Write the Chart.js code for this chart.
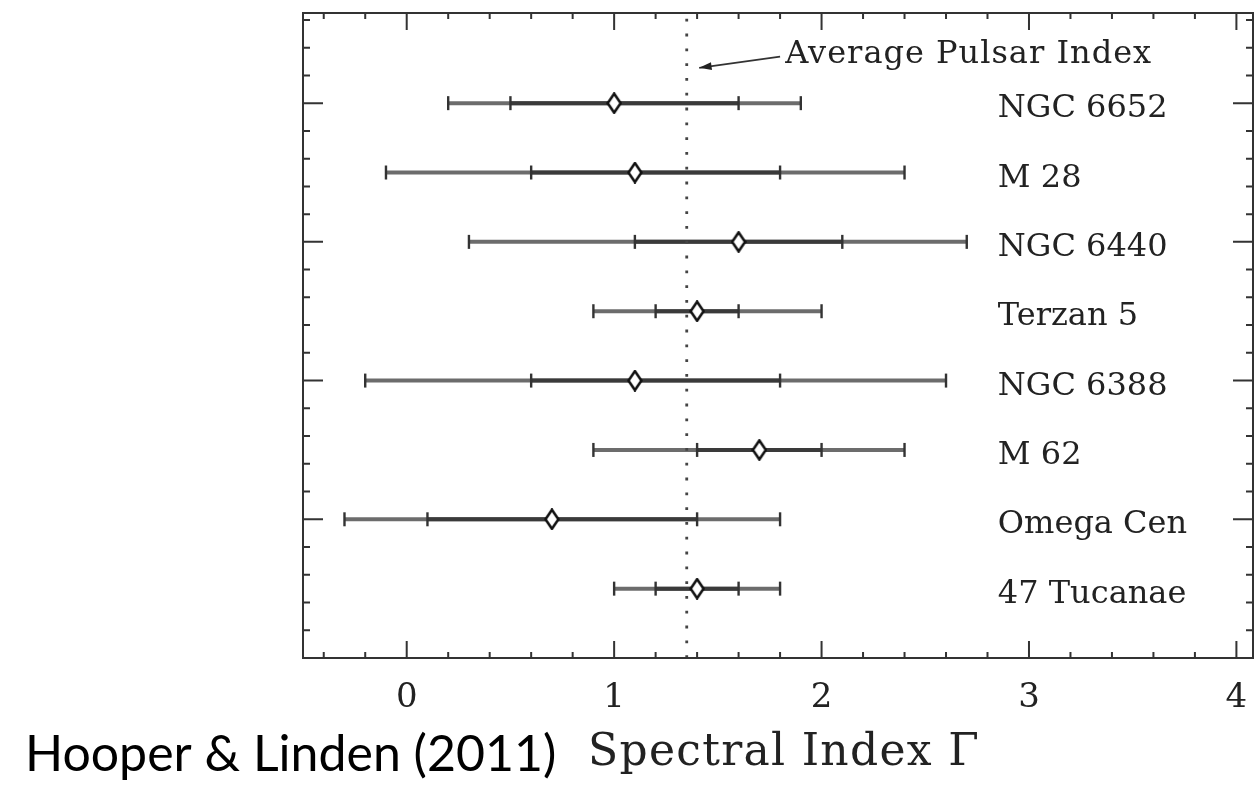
<!DOCTYPE html>
<html lang="en">
<head>
  <meta charset="UTF-8">
  <title>Spectral Index of Globular Clusters</title>
  <script src="https://cdn.jsdelivr.net/npm/chart.js"></script>
  <style>
    html, body {
      margin: 0;
      padding: 0;
      background: #fff;
    }

    #wrap {
      width: 1255px;
      height: 786px;
    }
  </style>
</head>
<body>
  <div id="wrap">
    <canvas id="chartCanvas" width="1255" height="786"></canvas>
  </div>

  <script>
    // globular clusters, top row first
    const clusters = ['NGC 6652', 'M 28', 'NGC 6440', 'Terzan 5', 'NGC 6388', 'M 62', 'Omega Cen', '47 Tucanae'];
    const rowPos = [8, 7, 6, 5, 4, 3, 2, 1];

    // best-fit spectral index with inner and outer error ranges
    const gamma   = [1.0, 1.1, 1.6, 1.4, 1.1, 1.7, 0.7, 1.4];
    const innerLo = [0.5, 0.6, 1.1, 1.2, 0.6, 1.4, 0.1, 1.2];
    const innerHi = [1.6, 1.8, 2.1, 1.6, 1.8, 2.0, 1.4, 1.6];
    const outerLo = [0.2, -0.1, 0.3, 0.9, -0.2, 0.9, -0.3, 1.0];
    const outerHi = [1.9, 2.4, 2.7, 2.0, 2.6, 2.4, 1.8, 1.8];

    const avgPulsarIndex = 1.35;

    const xTicks = [0, 1, 2, 3, 4];
    const xTickLabels = ['0', '1', '2', '3', '4'];

    const serif = '"DejaVu Serif", "Liberation Serif", serif';
    const ink = '#222';

    // narrow open diamond used as the point marker
    function diamond() {
      const c = document.createElement('canvas');
      c.width = 16;
      c.height = 22;
      const g = c.getContext('2d');
      g.beginPath();
      g.moveTo(8, 1.5);
      g.lineTo(14.5, 11);
      g.lineTo(8, 20.5);
      g.lineTo(1.5, 11);
      g.closePath();
      g.fillStyle = '#fff';
      g.fill();
      g.lineWidth = 2.6;
      g.strokeStyle = '#111';
      g.stroke();
      return c;
    }

    const datasets = [];

    clusters.forEach((name, i) => {
      datasets.push({
        data: [{x: outerLo[i], y: rowPos[i]}, {x: outerHi[i], y: rowPos[i]}],
        showLine: true,
        borderColor: '#6c6c6c',
        borderWidth: 4,
        pointRadius: 0,
        order: 4
      });
      datasets.push({
        data: [{x: innerLo[i], y: rowPos[i]}, {x: innerHi[i], y: rowPos[i]}],
        showLine: true,
        borderColor: '#3a3a3a',
        borderWidth: 4,
        pointRadius: 0,
        order: 3
      });
    });

    // end caps of both ranges
    const caps = [];
    clusters.forEach((name, i) => {
      [outerLo[i], innerLo[i], innerHi[i], outerHi[i]].forEach(v => caps.push({x: v, y: rowPos[i]}));
    });
    datasets.push({
      data: caps,
      pointStyle: 'line',
      rotation: 90,
      pointRadius: 7,
      borderWidth: 2.4,
      borderColor: '#333',
      order: 1
    });

    // average pulsar index
    datasets.push({
      data: [{x: avgPulsarIndex, y: 0}, {x: avgPulsarIndex, y: 9.3}],
      showLine: true,
      borderColor: '#444',
      borderWidth: 2.8,
      borderDash: [2.8, 12],
      pointRadius: 0,
      order: 2
    });

    datasets.push({
      data: clusters.map((name, i) => ({x: gamma[i], y: rowPos[i]})),
      pointStyle: diamond(),
      pointRadius: 8,
      order: 0
    });

    // frame, inward ticks, row names and notes
    const framePlugin = {
      id: 'frame',
      afterDatasetsDraw(chart) {
        const {ctx, chartArea: a, scales: {x, y}} = chart;
        ctx.save();
        ctx.strokeStyle = '#333';
        ctx.lineWidth = 2;
        ctx.strokeRect(a.left, a.top, a.right - a.left, a.bottom - a.top);

        ctx.beginPath();
        for (let i = -2; i <= 20; i++) {
          const px = x.getPixelForValue(i / 5);
          const len = i % 5 === 0 ? 17 : 6;
          ctx.moveTo(px, a.bottom);
          ctx.lineTo(px, a.bottom - len);
          ctx.moveTo(px, a.top);
          ctx.lineTo(px, a.top + len);
        }
        for (let i = 1; i * 0.4 < y.max; i++) {
          const py = y.getPixelForValue(i * 0.4);
          const len = i % 5 === 0 ? 20 : 7;
          ctx.moveTo(a.left, py);
          ctx.lineTo(a.left + len, py);
          ctx.moveTo(a.right, py);
          ctx.lineTo(a.right - len, py);
        }
        ctx.stroke();

        ctx.fillStyle = ink;
        ctx.font = '32px ' + serif;
        ctx.textBaseline = 'alphabetic';
        clusters.forEach((name, i) => {
          ctx.fillText(name, x.getPixelForValue(2.85), y.getPixelForValue(rowPos[i]) + 14);
        });

        ctx.letterSpacing = '1px';
        ctx.fillText('Average Pulsar Index', x.getPixelForValue(1.825), y.getPixelForValue(8.58));

        // axis title
        ctx.font = '44px ' + serif;
        ctx.letterSpacing = '1.3px';
        ctx.textAlign = 'center';
        ctx.fillText('Spectral Index Γ', (a.left + a.right) / 2 + 6, 765);
        ctx.textAlign = 'left';
        ctx.letterSpacing = '0px';

        // arrow to the dotted line
        const x0 = x.getPixelForValue(1.80), y0 = y.getPixelForValue(8.67);
        const x1 = x.getPixelForValue(1.41), y1 = y.getPixelForValue(8.51);
        const ang = Math.atan2(y1 - y0, x1 - x0);
        ctx.lineWidth = 1.8;
        ctx.beginPath();
        ctx.moveTo(x0, y0);
        ctx.lineTo(x1, y1);
        ctx.stroke();
        ctx.beginPath();
        ctx.moveTo(x1, y1);
        ctx.lineTo(x1 - 13 * Math.cos(ang - 0.3), y1 - 13 * Math.sin(ang - 0.3));
        ctx.lineTo(x1 - 13 * Math.cos(ang + 0.3), y1 - 13 * Math.sin(ang + 0.3));
        ctx.closePath();
        ctx.fill();

        ctx.fillStyle = '#000';
        ctx.font = '50px Lato, "Open Sans", sans-serif';
        ctx.fillText('Hooper & Linden (2011)', 25, 771);
        ctx.restore();
      }
    };

    new Chart(document.getElementById('chartCanvas'), {
      type: 'scatter',
      data: {datasets},
      options: {
        responsive: false,
        animation: false,
        layout: {
          autoPadding: false,
          padding: {left: 303, right: 2, top: 13, bottom: 0}
        },
        plugins: {
          legend: {display: false},
          tooltip: {enabled: false}
        },
        scales: {
          x: {
            type: 'linear',
            min: -0.5,
            max: 4.08,
            grid: {display: false, drawTicks: false},
            border: {display: false},
            afterBuildTicks: s => { s.ticks = xTicks.map(v => ({value: v})); },
            afterFit: s => {
              s.height = 128;
              s.paddingLeft = 0;
              s.paddingRight = 0;
            },
            ticks: {
              padding: 20,
              color: ink,
              font: {family: serif, size: 34},
              callback: (v, i) => xTickLabels[i]
            }
          },
          y: {
            type: 'linear',
            display: false,
            min: 0,
            max: 9.3
          }
        }
      },
      plugins: [framePlugin]
    });
  </script>
</body>
</html>
